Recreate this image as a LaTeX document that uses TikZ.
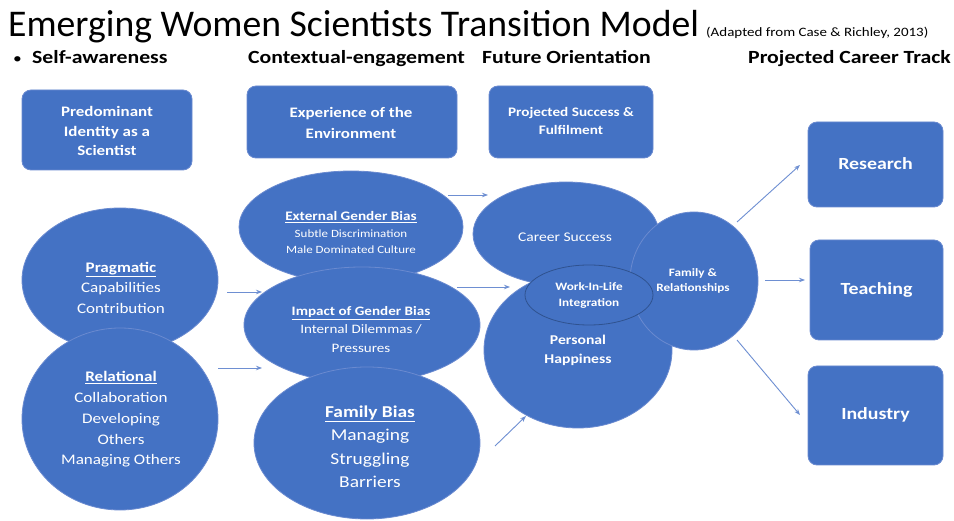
\documentclass[tikz,border=0pt]{standalone}
\usepackage{fontspec}
\setmainfont{Carlito}[FakeStretch=1.17]
\newfontfamily\titlefont{Carlito}
\usetikzlibrary{shapes.geometric,arrows.meta}
\definecolor{ofblue}{HTML}{4472C4}
\definecolor{ofedge}{HTML}{6A8AD0}
\definecolor{ofline}{HTML}{2F528F}
\definecolor{arrcol}{HTML}{6E8FD2}
\begin{document}
\begin{tikzpicture}[x=1pt,y=-1pt,
  shp/.style={fill=ofblue, draw=ofedge, line width=0.8pt},
  ell/.style={shp, ellipse, inner sep=0pt},
  box/.style={shp, rectangle, rounded corners=9pt, inner sep=0pt},
  txt/.style={text=white, align=center, inner sep=0pt},
  hd/.style={font=\bfseries\fontsize{18.6}{22}\selectfont, anchor=base west, inner sep=0pt},
  arr/.style={draw=arrcol, line width=0.9pt, -{Stealth[length=6pt,width=4.5pt]}}]
\useasboundingbox (0,0) rectangle (954,521);
\fill[white] (0,0) rectangle (954,521);

% title
\node[anchor=base west, inner sep=0pt, font=\titlefont\fontsize{37.7}{40}\selectfont] (title) at (8,37) {Emerging Women Scientists Transition Model};
\node[anchor=base west, inner sep=0pt, font=\fontsize{12.8}{14}\selectfont] (sub) at (706,37) {(Adapted from Case \& Richley, 2013)};

% headers
\node[anchor=base west, inner sep=0pt, font=\fontsize{15}{18}\selectfont] (bul) at (13,64) {•};
\node[hd] (h1) at (32,64) {Self-awareness};
\node[hd] (h2) at (248,64) {Contextual-engagement};
\node[hd] (h3) at (482,64) {Future Orientation};
\node[hd] (h4) at (748,64) {Projected Career Track};

% top boxes
\node[box, minimum width=170pt, minimum height=80pt] (pid) at (107,130) {};
\node[txt, font=\bfseries\fontsize{14.5}{19.5}\selectfont] (pidT) at (107,131) {Predominant\\Identity as a\\Scientist};
\node[box, minimum width=210pt, minimum height=72pt] (exp) at (352,122) {};
\node[txt, font=\bfseries\fontsize{14.5}{21}\selectfont] (expT) at (351,122.5) {Experience of the\\Environment};
\node[box, minimum width=164pt, minimum height=72pt] (pro) at (571,122) {};
\node[txt, font=\bfseries\fontsize{13}{18}\selectfont] (proT) at (571,121) {Projected Success \&\\Fulfilment};

% career boxes
\node[box, minimum width=135pt, minimum height=85pt] (res) at (875.5,164.5) {};
\node[txt, font=\bfseries\fontsize{17}{20}\selectfont] (resT) at (875.5,164) {Research};
\node[box, minimum width=133pt, minimum height=100pt] (tea) at (876.5,290) {};
\node[txt, font=\bfseries\fontsize{17}{20}\selectfont] (teaT) at (876.5,290) {Teaching};
\node[box, minimum width=135pt, minimum height=99pt] (ind) at (875.5,415.5) {};
\node[txt, font=\bfseries\fontsize{17}{20}\selectfont] (indT) at (875.5,415) {Industry};

% self-awareness ellipses
\node[ell, minimum width=196pt, minimum height=144pt] (prag) at (120,280) {};
\node[ell, minimum width=196pt, minimum height=182pt] (rel) at (120,419) {};
\node[txt, font=\fontsize{14.6}{20.5}\selectfont] (pragT) at (121,287.5) {\textbf{\underline{Pragmatic}}\\Capabilities\\Contribution};
\node[txt, font=\fontsize{14.6}{20.7}\selectfont] (relT) at (121,419.5) {\textbf{\underline{Relational}}\\Collaboration\\Developing\\Others\\Managing Others};

% contextual ellipses
\node[ell, minimum width=224pt, minimum height=112pt] (ext) at (351,227) {};
\node[ell, minimum width=236pt, minimum height=116pt] (imp) at (362,325) {};
\node[ell, minimum width=226pt, minimum height=152pt] (fam) at (367,443) {};
\node[txt, font=\fontsize{11.1}{16.5}\selectfont] (extT) at (351,232.5) {{\bfseries\fontsize{13}{16.5}\selectfont\underline{External Gender Bias}}\\Subtle Discrimination\\Male Dominated Culture};
\node[txt, font=\fontsize{12.9}{18.5}\selectfont] (impT) at (361,329.5) {\textbf{\underline{Impact of Gender Bias}}\\Internal Dilemmas /\\Pressures};
\node[txt, font=\fontsize{16.6}{23.5}\selectfont] (famT) at (370,446.5) {\textbf{\underline{Family Bias}}\\Managing\\Struggling\\Barriers};

% future orientation ellipses
\node[ell, minimum width=186pt, minimum height=104pt] (car) at (566,234) {};
\node[ell, minimum width=188pt, minimum height=156pt] (hap) at (578,350) {};
\node[ell, minimum width=128pt, minimum height=138pt] (fr) at (694,281) {};
\node[ell, draw=ofline, minimum width=128pt, minimum height=60pt] (wil) at (589,295) {};
\node[txt, font=\fontsize{13.3}{18}\selectfont] (carT) at (565,237) {Career Success};
\node[txt, font=\bfseries\fontsize{11.3}{16}\selectfont] (wilT) at (589,295) {Work-In-Life\\Integration};
\node[txt, font=\bfseries\fontsize{13.4}{19}\selectfont] (hapT) at (578,350.5) {Personal\\Happiness};
\node[txt, font=\bfseries\fontsize{11.3}{15}\selectfont] (frT) at (693,280.5) {Family \&\\Relationships};

% arrow end points
\coordinate (a1s) at (227,292); \coordinate (a1e) at (262,292);
\coordinate (a2s) at (218,368); \coordinate (a2e) at (262,368);
\coordinate (a3s) at (448,195); \coordinate (a3e) at (488,195);
\coordinate (a4s) at (457,287); \coordinate (a4e) at (510,287);
\coordinate (a5s) at (495,446); \coordinate (a5e) at (526,416);
\coordinate (a6s) at (737,222); \coordinate (a6e) at (800,165);
\coordinate (a7s) at (765,280); \coordinate (a7e) at (805,280);
\coordinate (a8s) at (737,340); \coordinate (a8e) at (800,415);
\foreach \i in {1,...,8} {\draw[arr] (a\i s) -- (a\i e);}
\end{tikzpicture}
\end{document}
